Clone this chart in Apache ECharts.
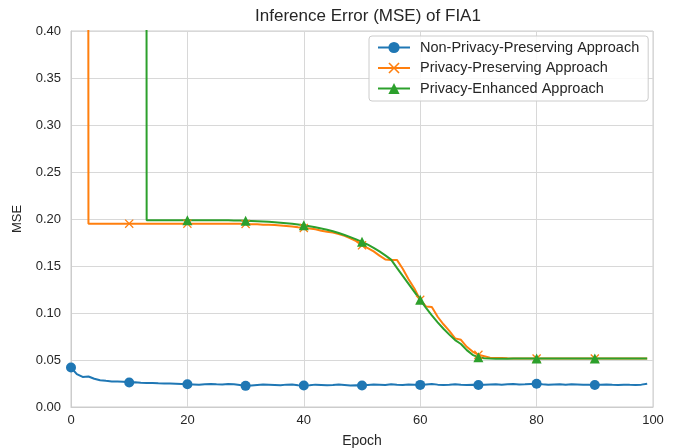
<!DOCTYPE html>
<html>
<head>
<meta charset="utf-8">
<script src="https://cdn.jsdelivr.net/npm/echarts@6/dist/echarts.min.js"></script>
<style>
  html, body { margin: 0; padding: 0; background: #fff; }
  #chart { width: 675px; height: 448px; }
</style>
</head>
<body>
<div id="chart"></div>
<script>
// Inference Error (MSE) of FIA1, epochs 0..99
const seriesNames = ['Non-Privacy-Preserving Approach', 'Privacy-Preserving Approach', 'Privacy-Enhanced Approach'];
const xTicks = [0, 20, 40, 60, 80, 100];
const yTicks = [0, 0.05, 0.1, 0.15, 0.2, 0.25, 0.3, 0.35, 0.4];

const nonPrivacy = [
  0.042, 0.035, 0.032, 0.0325, 0.030, 0.0285, 0.0278, 0.0272, 0.027, 0.0268,
  0.026, 0.0262, 0.0258, 0.0255, 0.0255, 0.0252, 0.025, 0.025, 0.0248, 0.0245,
  0.0242, 0.024, 0.0238, 0.0242, 0.0245, 0.0242, 0.024, 0.0245, 0.0242, 0.0235,
  0.0225, 0.023, 0.0235, 0.024, 0.0238, 0.0235, 0.0232, 0.0238, 0.024, 0.0232,
  0.0228, 0.0232, 0.0238, 0.0235, 0.0232, 0.0235, 0.024, 0.0235, 0.023, 0.0232,
  0.0228, 0.0235, 0.024, 0.0238, 0.0235, 0.0242, 0.0238, 0.0235, 0.024, 0.0238,
  0.0235, 0.024, 0.0245, 0.0238, 0.0235, 0.0238, 0.0242, 0.0238, 0.0235, 0.0238,
  0.0234, 0.0238, 0.024, 0.0242, 0.0238, 0.0242, 0.0245, 0.024, 0.0242, 0.0245,
  0.0248, 0.0242, 0.0238, 0.024, 0.0242, 0.0238, 0.0242, 0.024, 0.0238, 0.0236,
  0.0234, 0.0238, 0.024, 0.0236, 0.0235, 0.0238, 0.0236, 0.0235, 0.0238, 0.0248
];

// early epochs are far above the axis range (drawn as a vertical drop)
const privacyPreserving = [
  10, 10, 10, 0.195, 0.195, 0.195, 0.195, 0.195, 0.195, 0.195,
  0.195, 0.195, 0.195, 0.195, 0.195, 0.195, 0.195, 0.195, 0.195, 0.195,
  0.195, 0.195, 0.195, 0.195, 0.195, 0.195, 0.195, 0.195, 0.195, 0.195,
  0.1948, 0.1945, 0.1945, 0.194, 0.1938, 0.1935, 0.193, 0.1925, 0.192, 0.1912,
  0.1905, 0.19, 0.189, 0.1875, 0.1865, 0.1855, 0.184, 0.182, 0.1795, 0.1765,
  0.172, 0.169, 0.1655, 0.161, 0.157, 0.1565, 0.1565, 0.147, 0.136, 0.126,
  0.114, 0.107, 0.1065, 0.096, 0.088, 0.081, 0.073, 0.0715, 0.064, 0.059,
  0.0555, 0.054, 0.0525, 0.052, 0.052, 0.0518, 0.0517, 0.0516, 0.0516, 0.0516,
  0.0516, 0.0516, 0.0516, 0.0516, 0.0516, 0.0516, 0.0516, 0.0516, 0.0516, 0.0516,
  0.0516, 0.0516, 0.0516, 0.0516, 0.0516, 0.0516, 0.0516, 0.0516, 0.0516, 0.0516
];

const privacyEnhanced = [
  10, 10, 10, 10, 10, 10, 10, 10, 10, 10,
  10, 10, 10, 0.1988, 0.1988, 0.1988, 0.1988, 0.1988, 0.1988, 0.1988,
  0.1988, 0.1988, 0.1988, 0.1988, 0.1988, 0.1988, 0.1987, 0.1986, 0.1985, 0.1984,
  0.1982, 0.198, 0.1977, 0.1974, 0.197, 0.1966, 0.1961, 0.1955, 0.1949, 0.1942,
  0.1934, 0.1924, 0.1913, 0.19, 0.1886, 0.187, 0.1851, 0.183, 0.1807, 0.1783,
  0.1757, 0.1727, 0.1693, 0.1655, 0.1613, 0.1568, 0.148, 0.1395, 0.131, 0.1225,
  0.114, 0.1055, 0.0975, 0.09, 0.0832, 0.077, 0.0712, 0.067, 0.0605, 0.0555,
  0.0528, 0.0518, 0.0515, 0.0514, 0.0514, 0.0514, 0.0515, 0.0515, 0.0515, 0.0515,
  0.0515, 0.0515, 0.0515, 0.0515, 0.0515, 0.0515, 0.0515, 0.0515, 0.0515, 0.0515,
  0.0515, 0.0515, 0.0515, 0.0515, 0.0515, 0.0515, 0.0515, 0.0515, 0.0515, 0.0515
];

const colors = ['#1f77b4', '#ff7f0e', '#2ca02c'];
const crossPath = 'path://M0,1L1,0L5,4L9,0L10,1L6,5L10,9L9,10L5,6L1,10L0,9L4,5Z';
const fontFamily = '"Liberation Sans", Arial, sans-serif';

function pairs(values) {
  return values.map((v, i) => [i, v]);
}

function makeSeries(name, values, color, symbol, size) {
  return {
    name: name,
    type: 'line',
    data: pairs(values),
    clip: true,
    symbol: symbol,
    showAllSymbol: true,
    // markers every 10 epochs
    symbolSize: (val, params) => (params.dataIndex % 10 === 0 ? size : 0),
    lineStyle: { color: color, width: 2 },
    itemStyle: { color: color },
    emphasis: { disabled: true },
    animation: false,
    z: 3
  };
}

const chart = echarts.init(document.getElementById('chart'), null, { renderer: 'canvas' });

const option = {
  backgroundColor: '#ffffff',
  animation: false,
  color: colors,
  textStyle: { fontFamily: fontFamily },
  title: {
    text: 'Inference Error (MSE) of FIA1',
    left: 363,
    top: 3,
    textAlign: 'center',
    textStyle: { fontSize: 17, fontWeight: 'normal', color: '#262626', fontFamily: fontFamily }
  },
  legend: {
    orient: 'vertical',
    left: 369,
    top: 36,
    padding: [4, 9, 5, 8],
    itemGap: 5.5,
    itemWidth: 32,
    itemHeight: 14,
    backgroundColor: 'rgba(255,255,255,0.85)',
    borderColor: '#cccccc',
    borderWidth: 1,
    borderRadius: 3,
    textStyle: { fontSize: 14.5, color: '#262626', fontFamily: fontFamily, padding: [0, 0, 0, 5] },
    data: seriesNames
  },
  grid: {
    left: 71,
    right: 22,
    top: 31,
    bottom: 41,
    outerBoundsMode: 'none',
    containLabel: false,
    show: true,
    borderColor: '#cccccc',
    borderWidth: 1
  },
  xAxis: {
    type: 'value',
    min: xTicks[0],
    max: xTicks[xTicks.length - 1],
    interval: 20,
    name: 'Epoch',
    nameLocation: 'middle',
    nameGap: 27,
    nameTextStyle: { fontSize: 14, color: '#262626' },
    axisLine: { show: true, lineStyle: { color: '#cccccc' } },
    axisTick: { show: false },
    axisLabel: { fontSize: 13, color: '#262626', margin: 7 },
    splitLine: { show: true, lineStyle: { color: '#d8d8d8', width: 1 } }
  },
  yAxis: {
    type: 'value',
    min: yTicks[0],
    max: yTicks[yTicks.length - 1],
    interval: 0.05,
    name: 'MSE',
    nameLocation: 'middle',
    nameGap: 47,
    nameRotate: 90,
    nameTextStyle: { fontSize: 13, color: '#262626' },
    axisLine: { show: true, lineStyle: { color: '#cccccc' } },
    axisTick: { show: false },
    axisLabel: {
      fontSize: 13,
      color: '#262626',
      margin: 10,
      formatter: (v) => v.toFixed(2)
    },
    splitLine: { show: true, lineStyle: { color: '#d8d8d8', width: 1 } }
  },
  series: [
    makeSeries(seriesNames[0], nonPrivacy, colors[0], 'circle', 10),
    makeSeries(seriesNames[1], privacyPreserving, colors[1], crossPath, 9),
    makeSeries(seriesNames[2], privacyEnhanced, colors[2], 'triangle', 10)
  ]
};

chart.setOption(option);
window.addEventListener('resize', () => chart.resize());
</script>
</body>
</html>
